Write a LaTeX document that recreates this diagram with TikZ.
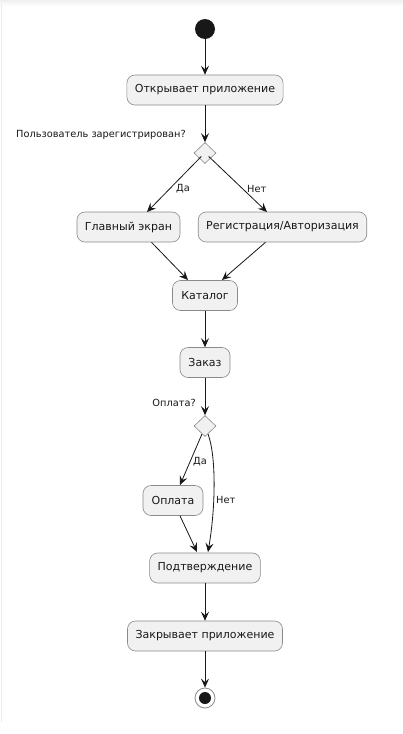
\documentclass[tikz,border=0pt]{standalone}
\usepackage{fontspec}
\setmainfont{DejaVu Sans}
\usetikzlibrary{arrows.meta,shapes.geometric}
\definecolor{boxfill}{HTML}{F1F1F1}
\definecolor{boxline}{HTML}{8A8A8A}
\definecolor{ink}{HTML}{181818}
\tikzset{
  act/.style={draw=boxline, fill=boxfill, line width=0.6pt, rounded corners=8pt,
    minimum height=30pt, inner xsep=8pt, font=\fontsize{11}{13}\selectfont, text=ink},
  dec/.style={draw=boxline, fill=boxfill, line width=0.6pt, diamond, minimum width=22pt, minimum height=21pt, inner sep=0pt},
  flow/.style={draw=ink, line width=0.8pt, -{Stealth[length=9pt,width=8pt,inset=3.5pt]}},
  lbl/.style={font=\fontsize{9.8}{11}\selectfont, text=ink, inner sep=0pt},
}
\begin{document}
\begin{tikzpicture}[x=1pt,y=-1pt]
\useasboundingbox (0,0) rectangle (403,734);
\fill[white] (0,0) rectangle (403,734);
\shade[top color=gray!12, bottom color=white] (0,0) rectangle (403,6);
\draw[gray!15, line width=0.8pt] (1,4) -- (1,722);
% start
\node[circle, fill=ink, minimum size=20pt, inner sep=0pt] (start) at (205,29) {};
\node[act, minimum width=156pt] (open) at (205,90) {Открывает приложение};
\node[dec] (d1) at (205,153) {};
\node[lbl, anchor=east] (q1) at (186,135) {Пользователь зарегистрирован?};
\node[act, minimum width=103pt] (main) at (128.5,227) {Главный экран};
\node[act, minimum width=167pt] (reg) at (282.5,227) {Регистрация/Авторизация};
\node[act, minimum width=65pt] (cat) at (205,295.5) {Каталог};
\node[act, minimum width=50pt] (order) at (205,362.5) {Заказ};
\node[dec] (d2) at (205,426) {};
\node[lbl, anchor=east] (q2) at (196,403) {Оплата?};
\node[act, minimum width=60pt] (pay) at (173,500.5) {Оплата};
\node[act, minimum width=110pt] (conf) at (205,568) {Подтверждение};
\node[act, minimum width=155pt] (close) at (205,636) {Закрывает приложение};
\node[circle, draw=boxline, fill=white, line width=0.8pt, minimum size=20pt, inner sep=0pt] (end) at (205,698) {};
\node[circle, fill=ink, minimum size=12pt, inner sep=0pt] (endin) at (end) {};
% flows
\draw[flow] (start) -- (open);
\draw[flow] (open) -- (d1);
\draw[flow] (d1.south west) ++(2,-2) coordinate (d1l) (d1l) -- (147,212) coordinate (mt);
\draw[flow] (d1.south east) ++(-2,-2) coordinate (d1r) (d1r) -- (267,212) coordinate (rt);
\node[lbl, anchor=west] (yes1) at (176,189) {Да};
\node[lbl, anchor=west] (no1) at (247,189) {Нет};
\draw[flow] (main.south) ++(23,0) coordinate (mb) (mb) -- (188,280) coordinate (ct1);
\draw[flow] (reg.south) ++(-17,0) coordinate (rb) (rb) -- (222,280) coordinate (ct2);
\draw[flow] (cat) -- (order);
\draw[flow] (order) -- (d2);
\coordinate (d2l) at (202,434);
\coordinate (d2r) at (208,434);
\draw[flow] (d2l) -- (180,485) coordinate (pt);
\node[lbl, anchor=west] (yes2) at (193,462) {Да};
\draw[flow] (d2r) .. controls (216,455) and (216,505) .. (208,552) coordinate (cf2);
\node[lbl, anchor=west] (no2) at (216,500) {Нет};
\draw[flow] (pay.south) ++(7,0) coordinate (pb) (pb) -- (197,552) coordinate (cf1);
\draw[flow] (conf) -- (close);
\draw[flow] (close) -- (end);
\end{tikzpicture}
\end{document}
